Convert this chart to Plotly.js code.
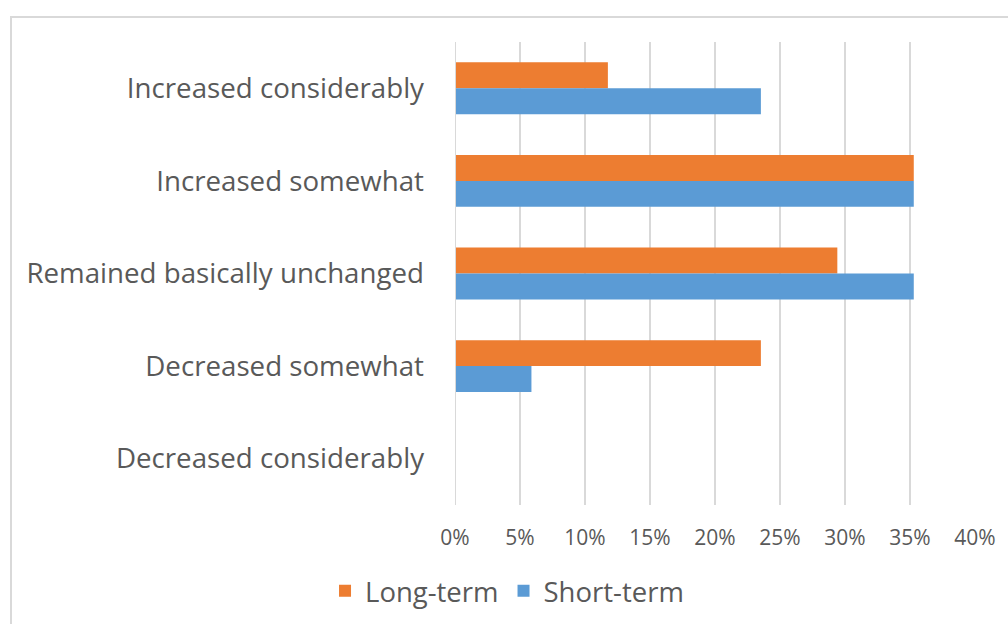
<!DOCTYPE html>
<html><head><meta charset="utf-8">
<script src="https://cdn.plot.ly/plotly-3.0.1.min.js"></script>
<style>
html,body{margin:0;padding:0;background:#fff;}
#wrap{position:relative;width:1008px;height:624px;overflow:hidden;}
#chart{position:absolute;left:0;top:0;width:1008px;height:624px;}
#frame{position:absolute;left:10px;top:16px;width:1010px;height:620px;border:2px solid #d9d9d9;pointer-events:none;}
</style></head>
<body>
<div id="wrap"><div id="chart"></div><div id="frame"></div></div>
<script>
const categories = ["Increased considerably","Increased somewhat","Remained basically unchanged","Decreased somewhat","Decreased considerably"];
const longTerm = [11.76, 35.29, 29.41, 23.53, 0];
const shortTerm = [23.53, 35.29, 35.29, 5.88, 0];
const tickVals = [0,5,10,15,20,25,30,35,40];
const tickText = ["0%","5%","10%","15%","20%","25%","30%","35%","40%"];

const font = "'Open Sans', 'Noto Sans', sans-serif";
const traces = [
  {type:'bar', orientation:'h', name:'Long-term', y:categories, x:longTerm, marker:{color:'#ed7d31'}, hoverinfo:'none'},
  {type:'bar', orientation:'h', name:'Short-term', y:categories, x:shortTerm, marker:{color:'#5b9bd5'}, hoverinfo:'none'}
];
const layout = {
  width:1008, height:624,
  margin:{l:455, r:33, t:42, b:119},
  paper_bgcolor:'rgba(0,0,0,0)', plot_bgcolor:'rgba(0,0,0,0)',
  barmode:'group', bargap:0.44, bargroupgap:0,
  font:{family:font, color:'#595959'},
  xaxis:{range:[0,40], tickvals:tickVals, ticktext:tickText, showgrid:true, gridcolor:'#d9d9d9', gridwidth:2,
         zeroline:false, showline:false, ticks:'', tickfont:{size:21, color:'#595959'}, ticklabelstandoff:18, fixedrange:true},
  yaxis:{autorange:'reversed', showgrid:false, zeroline:false, showline:false, ticks:'',
         tickfont:{size:27.7, color:'#595959'}, ticklabelstandoff:30, fixedrange:true},
  showlegend:true,
  legend:{orientation:'h', xref:'container', yref:'container', x:0.503, xanchor:'center', y:0.053, yanchor:'middle',
          font:{size:27.5, color:'#595959'}, itemwidth:30},
  shapes:[{type:'line', xref:'x', yref:'paper', x0:0, x1:0, y0:0, y1:1, line:{color:'#d9d9d9', width:2}}]
};
Plotly.newPlot('chart', traces, layout, {staticPlot:true, displayModeBar:false});
</script>
</body></html>
